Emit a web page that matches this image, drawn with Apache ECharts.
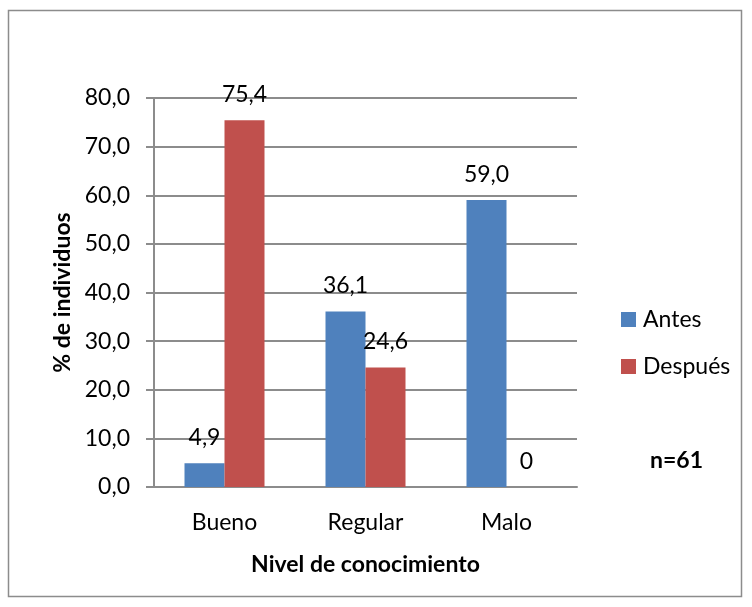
<!DOCTYPE html>
<html>
<head>
<meta charset="utf-8">
<script src="https://cdn.jsdelivr.net/npm/echarts@6/dist/echarts.min.js"></script>
<style>
  html, body { margin: 0; padding: 0; background: #fff; }
  #chart { width: 752px; height: 607px; }
</style>
</head>
<body>
<div id="chart"></div>
<script>
// datos del gráfico
var categorias = ['Bueno', 'Regular', 'Malo'];
var antes = [4.9, 36.1, 59.0];
var despues = [75.4, 24.6, 0];
var ticksY = [0, 10, 20, 30, 40, 50, 60, 70, 80];

var FONT = 'Lato';
var FS = 23;
var gris = '#8c8c8c';

function fmt(v) {
    // Excel muestra "0" para el cero, el resto con una decimal y coma
    if (v === 0) return '0';
    return v.toFixed(1).replace('.', ',');
}

var myChart = echarts.init(document.getElementById('chart'));
myChart.setOption({
    animation: false,
    textStyle: { fontFamily: FONT, color: '#000' },
    grid: { left: 154, right: 175, top: 98, bottom: 120 },
    legend: {
        orient: 'vertical',
        left: 616,
        top: 303,
        itemWidth: 15,
        itemHeight: 15,
        itemGap: 24,
        icon: 'rect',
        textStyle: { fontFamily: FONT, fontSize: FS, color: '#000', padding: [0, 0, 0, 2] },
        data: ['Antes', 'Después']
    },
    title: {
        text: 'n=61',
        left: 645,
        top: 444,
        textStyle: { fontFamily: FONT, fontSize: FS, fontWeight: 'bold', color: '#000' }
    },
    graphic: [{
        type: 'rect',
        shape: { x: 8.5, y: 10.5, width: 733, height: 586 },
        style: { fill: 'none', stroke: gris, lineWidth: 1.5 },
        silent: true
    }],
    xAxis: {
        type: 'category',
        data: categorias,
        name: 'Nivel de conocimiento',
        nameLocation: 'middle',
        nameGap: 66,
        nameTextStyle: { fontFamily: FONT, fontSize: FS, fontWeight: 'bold', color: '#000' },
        axisLine: { lineStyle: { color: gris, width: 2 } },
        axisTick: { show: false },
        axisLabel: { fontFamily: FONT, fontSize: FS, color: '#000', margin: 24 }
    },
    yAxis: {
        type: 'value',
        min: ticksY[0],
        max: ticksY[ticksY.length - 1],
        interval: 10,
        name: '% de individuos',
        nameLocation: 'middle',
        nameGap: 80,
        nameRotate: 90,
        nameTextStyle: { fontFamily: FONT, fontSize: FS, fontWeight: 'bold', color: '#000' },
        axisLine: { show: true, lineStyle: { color: gris, width: 2 } },
        axisTick: { show: true, inside: false, length: 8, lineStyle: { color: gris, width: 2 } },
        splitLine: { show: true, lineStyle: { color: gris, width: 2 } },
        axisLabel: {
            fontFamily: FONT, fontSize: FS, color: '#000', margin: 24,
            formatter: function (v) { return v.toFixed(1).replace('.', ','); }
        }
    },
    series: [{
        name: 'Antes',
        type: 'bar',
        data: antes,
        barWidth: 40,
        barGap: '0%',
        itemStyle: { color: '#4F81BD' },
        label: {
            show: true, position: 'top', distance: 14,
            fontFamily: FONT, fontSize: FS, color: '#000',
            formatter: function (p) { return fmt(p.value); }
        }
    }, {
        name: 'Después',
        type: 'bar',
        data: despues,
        barWidth: 40,
        itemStyle: { color: '#C0504D' },
        label: {
            show: true, position: 'top', distance: 14,
            fontFamily: FONT, fontSize: FS, color: '#000',
            formatter: function (p) { return fmt(p.value); }
        }
    }]
});
</script>
</body>
</html>
